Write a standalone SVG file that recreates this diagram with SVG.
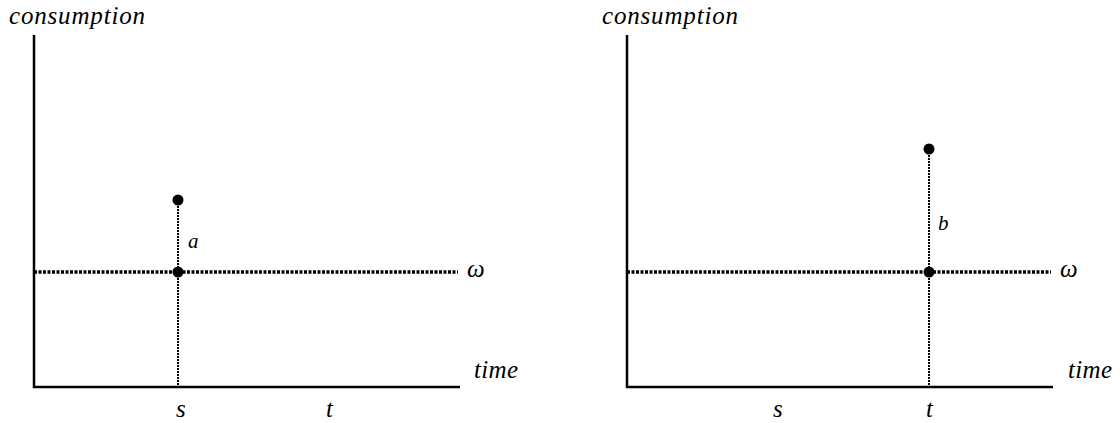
<svg xmlns="http://www.w3.org/2000/svg" width="1120" height="423" viewBox="0 0 1120 423">
<style>
text{font-family:'Liberation Serif','DejaVu Serif',serif;font-style:italic;fill:#000}
.lbl{font-size:25px}
.sm{font-size:21px}
.axis{stroke:#000;stroke-width:2.5;fill:none}
.hdot{stroke:#000;stroke-width:3.5;stroke-dasharray:3 1.5;fill:none}
.vdot{stroke:#000;stroke-width:2;stroke-dasharray:2 1;fill:none}
</style>
<rect width="1120" height="423" fill="#fff"/>
<g id="panel-left" font-family="Liberation Serif, DejaVu Serif, serif">
<text class="lbl" x="9" y="24" textLength="136" lengthAdjust="spacing">consumption</text>
<path class="axis" d="M34,35 V387 H460"/>
<text class="lbl" x="474" y="378" textLength="44" lengthAdjust="spacing">time</text>
<text class="lbl" x="176" y="417">s</text>
<text class="lbl" x="326" y="417">t</text>
<text class="lbl" x="467" y="277">ω</text>
<text class="sm" x="188" y="248">a</text>
</g>
<g id="panel-right" font-family="Liberation Serif, DejaVu Serif, serif">
<text class="lbl" x="602" y="24" textLength="136" lengthAdjust="spacing">consumption</text>
<path class="axis" d="M627,35 V387 H1053"/>
<text class="lbl" x="1068" y="378" textLength="44" lengthAdjust="spacing">time</text>
<text class="lbl" x="773" y="417">s</text>
<text class="lbl" x="926" y="417">t</text>
<text class="lbl" x="1060" y="277">ω</text>
<text class="sm" x="938" y="230">b</text>
</g>
<g id="connectors">
<line class="hdot" x1="34" y1="272" x2="458" y2="272"/>
<line class="vdot" x1="178" y1="200" x2="178" y2="386"/>
<line class="hdot" x1="627" y1="272" x2="1051" y2="272"/>
<line class="vdot" x1="929" y1="149" x2="929" y2="386"/>
</g>
<g id="points">
<circle cx="178" cy="200" r="5.5"/>
<circle cx="178" cy="272" r="5.5"/>
<circle cx="929" cy="149" r="5.5"/>
<circle cx="929" cy="272" r="5.5"/>
</g>
</svg>
